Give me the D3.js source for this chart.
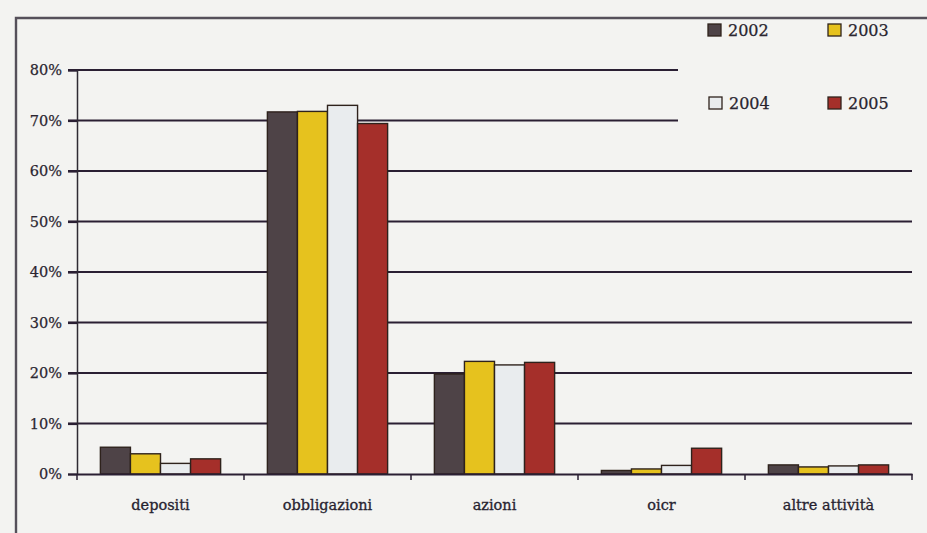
<!DOCTYPE html>
<html><head><meta charset="utf-8">
<script src="https://cdn.jsdelivr.net/npm/d3@7"></script>
<style>
html,body{margin:0;padding:0;background:#f3f3f1;}
svg{display:block;}
text{font-family:"DejaVu Serif","Liberation Serif",serif;fill:#2b2630;}
</style></head>
<body>
<svg id="chart" width="927" height="533"></svg>
<script>
const categories = ["depositi", "obbligazioni", "azioni", "oicr", "altre attività"];
const years = ["2002", "2003", "2004", "2005"];
const values2002 = [5.3, 71.7, 19.8, 0.7, 1.8];
const values2003 = [4.0, 71.8, 22.3, 1.0, 1.4];
const values2004 = [2.1, 73.0, 21.6, 1.7, 1.6];
const values2005 = [3.0, 69.4, 22.1, 5.1, 1.8];
const yTicks = [0, 10, 20, 30, 40, 50, 60, 70, 80];
const colors = ["#4e4347", "#e6c21e", "#e9ecee", "#a52f2a"];

(function () {
const series = [values2002, values2003, values2004, values2005];
const svg = d3.select("#chart");
svg.append("rect").attr("width", 927).attr("height", 533).attr("fill", "#f3f3f1");

// frame
svg.append("path").attr("d", "M16,533 L16,18 L927,18")
  .attr("fill", "none").attr("stroke", "#55505a").attr("stroke-width", 2.4);

const mLeft = 77, mRight = 912, mTop = 70, mBottom = 474;
const x0 = d3.scaleBand().domain(categories).range([mLeft, mRight]).padding(0);
const x1 = d3.scaleBand().domain(years)
  .range([x0.bandwidth() * 0.14, x0.bandwidth() * 0.86]).padding(0);
const y = d3.scaleLinear().domain([0, 80]).range([mBottom, mTop]);

// gridlines
svg.append("g").selectAll("line").data(yTicks.filter(d => d > 0)).join("line")
  .attr("x1", mLeft - 9)
  .attr("x2", d => d >= 70 ? 678 : mRight)
  .attr("y1", d => y(d)).attr("y2", d => y(d))
  .attr("stroke", "#2a1f33").attr("stroke-width", 2.2);

// y axis
const yAxis = svg.append("g").attr("transform", `translate(${mLeft},0)`)
  .call(d3.axisLeft(y).tickValues(yTicks).tickFormat(d => d + "%").tickSize(9).tickPadding(6));
yAxis.select(".domain").attr("stroke", "#2e2a33").attr("stroke-width", 1.5);
yAxis.selectAll(".tick line").attr("stroke", "#2a1f33").attr("stroke-width", 2.2);
yAxis.selectAll(".tick text").attr("font-size", 14.5).attr("font-family", "DejaVu Serif")
  .attr("fill", "#2a2530").attr("stroke", "#2a2530").attr("stroke-width", 0.25);

// bars
const groups = svg.append("g").selectAll("g").data(categories).join("g")
  .attr("transform", d => `translate(${x0(d)},0)`);
groups.selectAll("rect")
  .data((c, i) => years.map((yr, j) => ({ yr, j, v: series[j][i] })))
  .join("rect")
  .attr("x", d => x1(d.yr))
  .attr("width", x1.bandwidth())
  .attr("y", d => y(d.v))
  .attr("height", d => mBottom - y(d.v))
  .attr("fill", d => colors[d.j])
  .attr("stroke", "#2e221c").attr("stroke-width", 1.4);

// x axis
const xAxis = svg.append("g").attr("transform", `translate(0,${mBottom})`)
  .call(d3.axisBottom(x0).tickSize(0).tickPadding(26));
xAxis.select(".domain").attr("stroke", "#2a1f33").attr("stroke-width", 2.2);
xAxis.selectAll(".tick text").attr("font-size", 14.5).attr("font-family", "DejaVu Serif")
  .attr("fill", "#221d30").attr("stroke", "#221d30").attr("stroke-width", 0.3);
// boundary ticks
const bounds = categories.map(c => x0(c)).concat([mRight]);
svg.append("g").selectAll("line").data(bounds).join("line")
  .attr("x1", d => d).attr("x2", d => d)
  .attr("y1", mBottom).attr("y2", mBottom + 6)
  .attr("stroke", "#2a1f33").attr("stroke-width", 1.5);

// legend
const legPos = [[708, 24], [828, 24], [709, 97], [828, 97]];
const leg = svg.append("g").selectAll("g").data(years).join("g")
  .attr("transform", (d, i) => `translate(${legPos[i][0]},${legPos[i][1]})`);
leg.append("rect").attr("width", 13).attr("height", 12)
  .attr("fill", (d, i) => colors[i]).attr("stroke", "#2e221c").attr("stroke-width", 1.3);
leg.append("text").attr("x", 20).attr("y", 12).attr("font-size", 16)
  .attr("fill", "#221d28").attr("stroke", "#221d28").attr("stroke-width", 0.25)
  .text(d => d);
})();
</script>
</body></html>
